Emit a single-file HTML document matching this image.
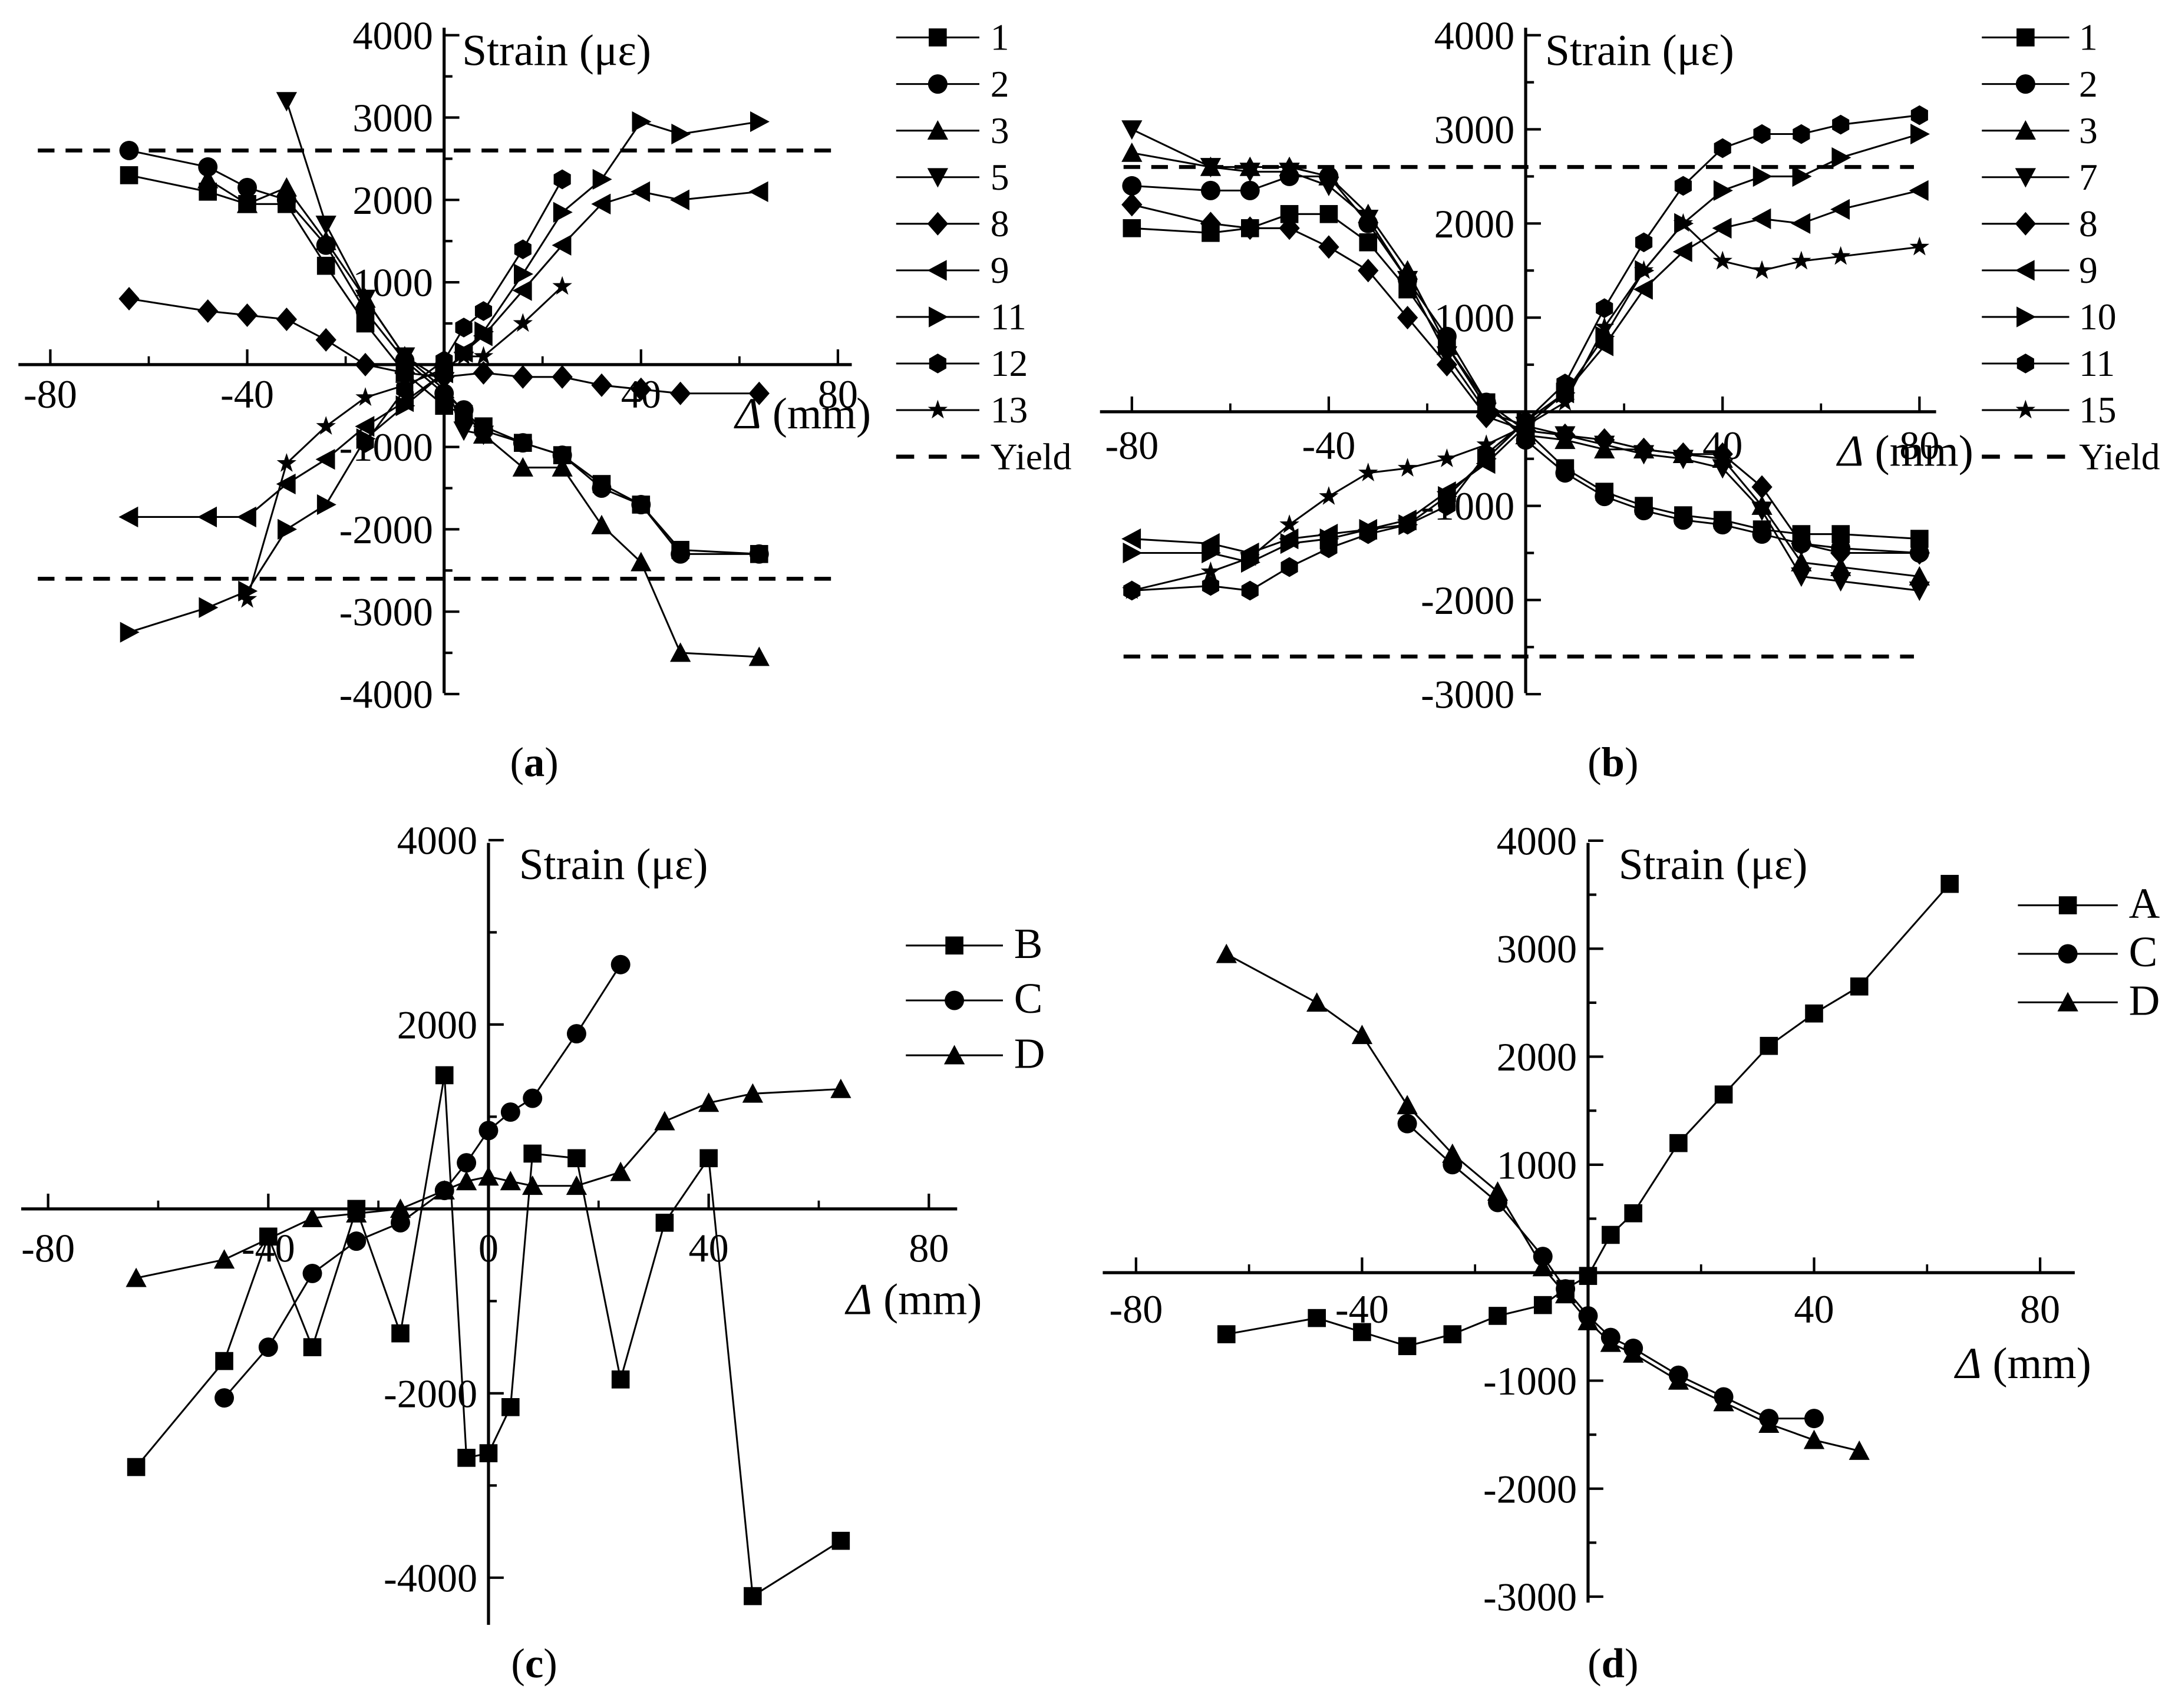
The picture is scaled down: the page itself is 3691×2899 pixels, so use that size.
<!DOCTYPE html>
<html><head><meta charset="utf-8"><style>
html,body{margin:0;padding:0;background:#fff}
svg{display:block}
text{font-family:"Liberation Serif",serif;fill:#000}
</style></head><body>
<svg id="fig" width="3691" height="2899" viewBox="0 0 1568 1232" xmlns="http://www.w3.org/2000/svg"></svg>
<script>
// ---------- DATA ----------
const xA = [-64,-48,-40,-32,-24,-16,-8,0,4,8,16,24,32,40,48,64];
const a1 = [2300,2100,1950,1950,1200,500,-100,-500,-600,-750,-950,-1100,-1450,-1700,-2250,-2300];
const a2 = [2600,2400,2150,2000,1450,650,50,-350,-550,-800,-950,-1100,-1500,-1700,-2300,-2300];
const a3x = [-48,-40,-32,-24,-16,-8,0,8,16,24,32,40,48,64];
const a3 = [2250,1950,2150,1500,800,100,-300,-850,-1250,-1250,-1950,-2400,-3500,-3550];
const a5x = [-32,-24,-16,-8,0,4,8];
const a5 = [3200,1700,800,100,-200,-800,-850];
const a8x = [-64,-48,-40,-32,-24,-16,-8,0,8,16,24,32,40,48,64];
const a8 = [800,650,600,550,300,0,-100,-150,-100,-150,-150,-250,-300,-350,-350];
const a9 = [-1850,-1850,-1850,-1450,-1150,-750,-450,-100,150,350,900,1450,1950,2100,2000,2100];
const a11 = [-3250,-2950,-2750,-2000,-1700,-900,-500,-100,150,400,1100,1850,2250,2950,2800,2950];
const a12x = [-16,-8,0,4,8,16,24];
const a12 = [-950,-300,50,450,650,1400,2250];
const a13x = [-40,-32,-24,-16,-8,0,4,8,16,24];
const a13 = [-2850,-1200,-750,-400,-250,-50,100,100,500,950];
const yieldA = [2600,-2600];

const xB = [-80,-64,-56,-48,-40,-32,-24,-16,-8,0,8,16,24,32,40,48,56,64,80];
const b1 = [1950,1900,1950,2100,2100,1800,1300,700,100,-200,-600,-850,-1000,-1100,-1150,-1250,-1300,-1300,-1350];
const b2 = [2400,2350,2350,2500,2500,2000,1400,800,100,-300,-650,-900,-1050,-1150,-1200,-1300,-1400,-1450,-1500];
const b3 = [2750,2600,2600,2600,2500,2100,1500,700,50,-250,-300,-400,-400,-450,-500,-1000,-1600,-1650,-1750];
const b7 = [3000,2600,2550,2550,2400,2050,1400,600,0,-150,-250,-350,-450,-500,-600,-1050,-1750,-1800,-1900];
const b8 = [2200,2000,1950,1950,1750,1500,1000,500,-50,-200,-250,-300,-400,-450,-450,-800,-1400,-1500,-1500];
const b9 = [-1350,-1400,-1500,-1350,-1300,-1250,-1150,-850,-550,-150,200,700,1300,1700,1950,2050,2000,2150,2350];
const b10 = [-1500,-1500,-1600,-1400,-1350,-1250,-1200,-900,-500,-100,200,800,1500,2000,2350,2500,2500,2700,2950];
const b11 = [-1900,-1850,-1900,-1650,-1450,-1300,-1200,-1000,-450,-100,300,1100,1800,2400,2800,2950,2950,3050,3150];
const b15 = [-1900,-1700,-1550,-1200,-900,-650,-600,-500,-350,-150,100,900,1500,2000,1600,1500,1600,1650,1750];
const yieldB = [2600,-2600];

const cBx = [-64,-48,-40,-32,-24,-16,-8,-4,0,4,8,16,24,32,40,48,64];
const cB = [-2800,-1650,-300,-1500,0,-1350,1450,-2700,-2650,-2150,600,550,-1850,-150,550,-4200,-3600];
const cCx = [-48,-40,-32,-24,-16,-8,-4,0,4,8,16,24];
const cC = [-2050,-1500,-700,-350,-150,200,500,850,1050,1200,1900,2650];
const cDx = [-64,-48,-32,-24,-16,-8,-4,0,4,8,16,24,32,40,48,64];
const cD = [-750,-550,-100,-50,0,200,300,350,300,250,250,400,950,1150,1250,1300];

const dAx = [-64,-48,-40,-32,-24,-16,-8,-4,0,4,8,16,24,32,40,48,64];
const dA = [-570,-420,-550,-680,-570,-400,-300,-150,-30,350,550,1200,1650,2100,2400,2650,3600];
const dCx = [-32,-24,-16,-8,-4,0,4,8,16,24,32,40];
const dC = [1380,1000,650,150,-150,-400,-600,-700,-950,-1150,-1350,-1350];
const dDx = [-64,-48,-40,-32,-24,-16,-8,-4,0,4,8,16,24,32,40,48];
const dD = [2950,2500,2200,1550,1100,750,50,-200,-450,-650,-750,-1000,-1200,-1400,-1550,-1650];

// ---------- DRAW ----------
const NS='http://www.w3.org/2000/svg';
const svg=document.getElementById('fig');
function el(tag,attrs,parent,txt){const e=document.createElementNS(NS,tag);for(const k in attrs)e.setAttribute(k,attrs[k]);if(txt!==undefined)e.textContent=txt;(parent||svg).appendChild(e);return e;}

function marker(g,type,cx,cy){
  const s=6.5;let e;
  if(type==='sq'){e=el('rect',{x:cx-s,y:cy-s,width:2*s,height:2*s},g);}
  else if(type==='ci'){e=el('circle',{cx:cx,cy:cy,r:s+0.5},g);}
  else{
    let pts;
    if(type==='up')pts=[[0,-s-1],[s+1,s],[-s-1,s]];
    else if(type==='dn')pts=[[0,s+1],[s+1,-s],[-s-1,-s]];
    else if(type==='di')pts=[[0,-s-2],[s+1,0],[0,s+2],[-s-1,0]];
    else if(type==='lt')pts=[[-s-1,0],[s,-s-1],[s,s+1]];
    else if(type==='rt')pts=[[s+1,0],[-s,-s-1],[-s,s+1]];
    else if(type==='hx'){pts=[];for(let i=0;i<6;i++){const a=Math.PI/6+i*Math.PI/3;pts.push([s*1.1*Math.cos(a),s*1.1*Math.sin(a)]);}}
    else if(type==='st'){pts=[];for(let i=0;i<10;i++){const r=i%2?s*0.45:s*1.15;const a=-Math.PI/2+i*Math.PI/5;pts.push([r*Math.cos(a),r*Math.sin(a)]);}}
    e=el('polygon',{points:pts.map(p=>(cx+p[0])+','+(cy+p[1])).join(' ')},g);
  }
  e.setAttribute('fill','#000');
  
  
}

function panel(cfg){
  const g=el('g',{},svg);
  
  
  const X=v=>cfg.x0+cfg.sx*v, Y=v=>cfg.y0-cfg.sy*v;
  const xa=el('line',{x1:cfg.xr[0],x2:cfg.xr[1],y1:cfg.y0,y2:cfg.y0,stroke:'#000','stroke-width':2.2},g);
  
  const ya=el('line',{x1:cfg.x0,x2:cfg.x0,y1:cfg.yr[0],y2:cfg.yr[1],stroke:'#000','stroke-width':2.2},g);
  
  cfg.xt.forEach(v=>{
    el('line',{x1:X(v),x2:X(v),y1:cfg.y0,y2:cfg.y0-11,stroke:'#000','stroke-width':1.8},g);
    el('line',{x1:X(v+20),x2:X(v+20),y1:cfg.y0,y2:cfg.y0-6,stroke:'#000','stroke-width':1.6},g);
  });
  el('line',{x1:X(cfg.xt[cfg.xt.length-1]+40),x2:X(cfg.xt[cfg.xt.length-1]+40),y1:cfg.y0,y2:cfg.y0-11,stroke:'#000','stroke-width':1.8},g);
  cfg.xl.forEach(v=>{const t=el('text',{x:X(v),y:cfg.y0+cfg.xly,'font-size':29,'text-anchor':'middle'},g,String(v));
    });
  for(let v=cfg.ymin;v<=cfg.ymax;v+=cfg.ystep/2){
    const maj=(v%cfg.ystep)===0;
    el('line',{x1:cfg.x0,x2:cfg.x0+(maj?11:6),y1:Y(v),y2:Y(v),stroke:'#000','stroke-width':1.8},g);
  }
  cfg.yl.forEach(v=>{const t=el('text',{x:cfg.x0-8,y:Y(v)+10,'font-size':29,'text-anchor':'end'},g,String(v));
    });
  (cfg.yld||[]).forEach(v=>{const l=el('line',{x1:cfg.yldx[0],x2:cfg.yldx[1],y1:Y(v),y2:Y(v),stroke:'#000','stroke-width':2.8,'stroke-dasharray':'12,8'},g);
    });
  cfg.series.forEach(s=>{
    const sg=el('g',{},g);
    
    
    el('polyline',{points:s.x.map((x,i)=>X(x)+','+Y(s.y[i])).join(' '),fill:'none',stroke:'#000','stroke-width':1.3},sg);
    s.x.forEach((x,i)=>marker(sg,s.m,X(x),Y(s.y[i])));
  });
  const yt=el('text',{x:cfg.st[0],y:cfg.st[1],'font-size':32},g,'Strain (με)');
  
  const xt=el('text',{x:cfg.dt[0],y:cfg.dt[1],'font-size':32},g);
  
  el('tspan',{'font-style':'italic'},xt,'Δ');el('tspan',{},xt,' (mm)');
  const lg=el('g',{},g);
  
  const L=cfg.lg[4];
  cfg.series.forEach((s,i)=>{
    const y=cfg.lg[1]+i*cfg.lg[3];
    const e=el('g',{},lg);
    
    el('line',{x1:cfg.lg[0],x2:cfg.lg[0]+L,y1:y,y2:y,stroke:'#000','stroke-width':1.3},e);
    marker(e,s.m,cfg.lg[0]+L/2,y);
    el('text',{x:cfg.lg[2],y:y+9,'font-size':cfg.lgf},e,s.label);
  });
  if(cfg.yld){
    const y=cfg.lg[1]+cfg.series.length*cfg.lg[3];
    const e=el('g',{},lg);
    
    el('line',{x1:cfg.lg[0],x2:cfg.lg[0]+L,y1:y,y2:y,stroke:'#000','stroke-width':3,'stroke-dasharray':'13,10.5'},e);
    el('text',{x:cfg.lg[2],y:y+9,'font-size':cfg.lgf},e,'Yield');
  }
  const cap=el('text',{x:cfg.cap[0],y:cfg.cap[1],'font-size':30,'text-anchor':'middle'},g);
  
  el('tspan',{},cap,'(');el('tspan',{'font-weight':'bold'},cap,cfg.letter);el('tspan',{},cap,')');
}

panel({name:'panel-a',letter:'a',x0:320,y0:263,sx:3.55,sy:0.0594,xr:[13,614],yr:[20,500],
  xt:[-80,-40,0,40],xl:[-80,-40,40,80],xly:31,ymin:-4000,ymax:4000,ystep:1000,
  yl:[4000,3000,2000,1000,-1000,-2000,-3000,-4000],yld:yieldA,yldx:[27,603],
  st:[333,47],dt:[530,309],lg:[646,27,714,33.6,60],lgf:27,cap:[385,560],
  series:[{label:'1',m:'sq',x:xA,y:a1},{label:'2',m:'ci',x:xA,y:a2},{label:'3',m:'up',x:a3x,y:a3},
   {label:'5',m:'dn',x:a5x,y:a5},{label:'8',m:'di',x:a8x,y:a8},{label:'9',m:'lt',x:xA,y:a9},
   {label:'11',m:'rt',x:xA,y:a11},{label:'12',m:'hx',x:a12x,y:a12},{label:'13',m:'st',x:a13x,y:a13}]});
panel({name:'panel-b',letter:'b',x0:1100,y0:297,sx:3.55,sy:0.0679,xr:[793,1396],yr:[20,500],
  xt:[-80,-40,0,40],xl:[-80,-40,40,80],xly:34,ymin:-3000,ymax:4000,ystep:1000,
  yl:[4000,3000,2000,1000,-1000,-2000,-3000],yld:yieldB,yldx:[810,1380],
  st:[1114,47],dt:[1325,336],lg:[1429,27,1499,33.6,63],lgf:27,cap:[1163,560],
  series:[{label:'1',m:'sq',x:xB,y:b1},{label:'2',m:'ci',x:xB,y:b2},{label:'3',m:'up',x:xB,y:b3},
   {label:'7',m:'dn',x:xB,y:b7},{label:'8',m:'di',x:xB,y:b8},{label:'9',m:'lt',x:xB,y:b9},
   {label:'10',m:'rt',x:xB,y:b10},{label:'11',m:'hx',x:xB,y:b11},{label:'15',m:'st',x:xB,y:b15}]});
panel({name:'panel-c',letter:'c',x0:352,y0:872,sx:3.97,sy:0.0665,xr:[15,690],yr:[608,1172],
  xt:[-80,-40,0,40],xl:[-80,-40,0,40,80],xly:38,ymin:-4000,ymax:4000,ystep:2000,
  yl:[4000,2000,-2000,-4000],
  st:[374,634],dt:[610,948],lg:[653,682,731,39.6,70],lgf:31,cap:[385,1210],
  series:[{label:'B',m:'sq',x:cBx,y:cB},{label:'C',m:'ci',x:cCx,y:cC},{label:'D',m:'up',x:cDx,y:cD}]});
panel({name:'panel-d',letter:'d',x0:1145,y0:918,sx:4.075,sy:0.0779,xr:[795,1496],yr:[608,1156],
  xt:[-80,-40,0,40],xl:[-80,-40,40,80],xly:36,ymin:-3000,ymax:4000,ystep:1000,
  yl:[4000,3000,2000,1000,-1000,-2000,-3000],
  st:[1167,634],dt:[1410,994],lg:[1455,653,1535,35,72],lgf:31,cap:[1163,1210],
  series:[{label:'A',m:'sq',x:dAx,y:dA},{label:'C',m:'ci',x:dCx,y:dC},{label:'D',m:'up',x:dDx,y:dD}]});
</script>
</body></html>
